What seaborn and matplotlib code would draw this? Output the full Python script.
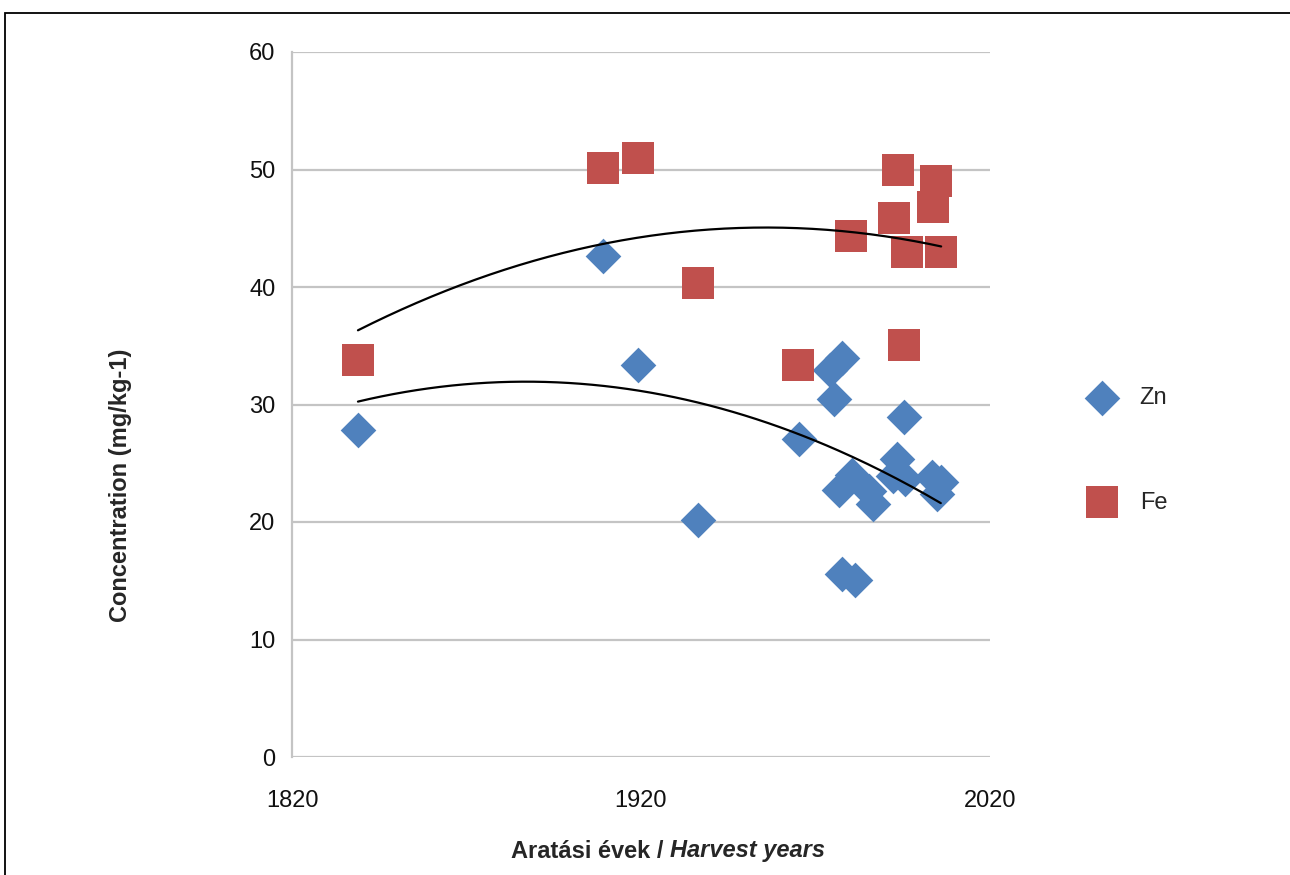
import numpy as np
import pandas as pd
import seaborn as sns
import matplotlib.pyplot as plt
from matplotlib.patches import Rectangle

# Zn concentration by harvest year
ZN_YEARS = [1838.9, 1909.1, 1919.1, 1936.3, 1965.3, 1974.2, 1977.6, 1975.3,
            1995.4, 1993.4, 1976.8, 1980.4, 1985.4, 1986.4, 1992.1, 1995.6,
            2003.3, 2005.9, 2004.7, 1977.5, 1981.3]
ZN_VALUES = [27.8, 42.6, 33.4, 20.2, 27.1, 32.9, 34.0, 30.5,
             28.9, 25.4, 22.7, 24.0, 22.6, 21.5, 23.9, 23.7,
             23.8, 23.4, 22.4, 15.6, 15.1]

# Fe concentration by harvest year
FE_YEARS = [1838.9, 1909.1, 1919.1, 1936.3, 1965.0, 1980.2, 1993.6, 1992.5,
            2004.5, 2003.7, 1996.2, 2006.0, 1995.4]
FE_VALUES = [33.8, 50.1, 51.0, 40.3, 33.4, 44.3, 50.0, 45.9,
             49.0, 46.8, 43.0, 43.0, 35.1]

Y_TICKS = [0, 10, 20, 30, 40, 50, 60]
X_TICKS = [1820, 1920, 2020]

BLUE = "#4F81BD"
RED = "#C0504D"
FS = 17

sns.set_style("white")
plt.rcParams['font.family'] = ['Liberation Sans', 'DejaVu Sans']

zn = pd.DataFrame({"year": ZN_YEARS, "conc": ZN_VALUES})
fe = pd.DataFrame({"year": FE_YEARS, "conc": FE_VALUES})

fig = plt.figure(figsize=(12.9, 8.75), dpi=100)
ax = fig.add_axes([292 / 1290, 1 - 757 / 875, 698 / 1290, 705 / 875])

sns.scatterplot(data=zn, x="year", y="conc", marker="D", s=330, color=BLUE,
                linewidth=0, label="Zn", ax=ax, zorder=3)
sns.scatterplot(data=fe, x="year", y="conc", marker="s", s=530, color=RED,
                linewidth=0, label="Fe", ax=ax, zorder=3)

# 2nd order polynomial trend lines
for df in (zn, fe):
    coef = np.polyfit(df["year"], df["conc"], 2)
    xs = np.linspace(df["year"].min(), df["year"].max(), 200)
    ax.plot(xs, np.polyval(coef, xs), color="black", lw=1.6, zorder=4)

ax.set_xlim(1820, 2020)
ax.set_ylim(0, 60)
ax.set_xticks(X_TICKS)
ax.set_yticks(Y_TICKS)
ax.yaxis.grid(True, color="#c4c4c4", lw=1.6)
ax.xaxis.grid(False)
for side in ["top", "right", "bottom"]:
    ax.spines[side].set_visible(False)
ax.spines["left"].set_color("#c4c4c4")
ax.spines["left"].set_linewidth(1.6)
ax.tick_params(axis="both", length=0, labelsize=FS, colors="#111111")
ax.tick_params(axis="x", pad=24)
ax.tick_params(axis="y", pad=12)
ax.set_xlabel("")
ax.set_ylabel("")

# axis titles
fig.text(120 / 1290, 1 - 485 / 875, "Concentration (mg/kg-1)", rotation=90,
         ha="center", va="center", fontsize=FS, fontweight="bold")
t1 = fig.text(511 / 1290, 1 - 851 / 875, "Aratási évek / ", ha="left",
              va="center", fontsize=FS, fontweight="bold")
fig.canvas.draw()
bb = t1.get_window_extent(fig.canvas.get_renderer())
fig.text(bb.x1 / 1290, 1 - 851 / 875, "Harvest years", ha="left", va="center",
         fontsize=FS, fontweight="bold", fontstyle="italic")

leg = ax.legend(loc="center left", bbox_to_anchor=(1.096, 0.435), frameon=False,
                fontsize=FS, labelspacing=3.5, handletextpad=0.6)

# outer frame
fig.patches.append(Rectangle((5 / 1290, -0.1), 1.2, 1 - 13 / 875 + 0.1,
                             transform=fig.transFigure, fill=False,
                             edgecolor="black", lw=1.3))

fig.savefig("out.png", dpi=100)
